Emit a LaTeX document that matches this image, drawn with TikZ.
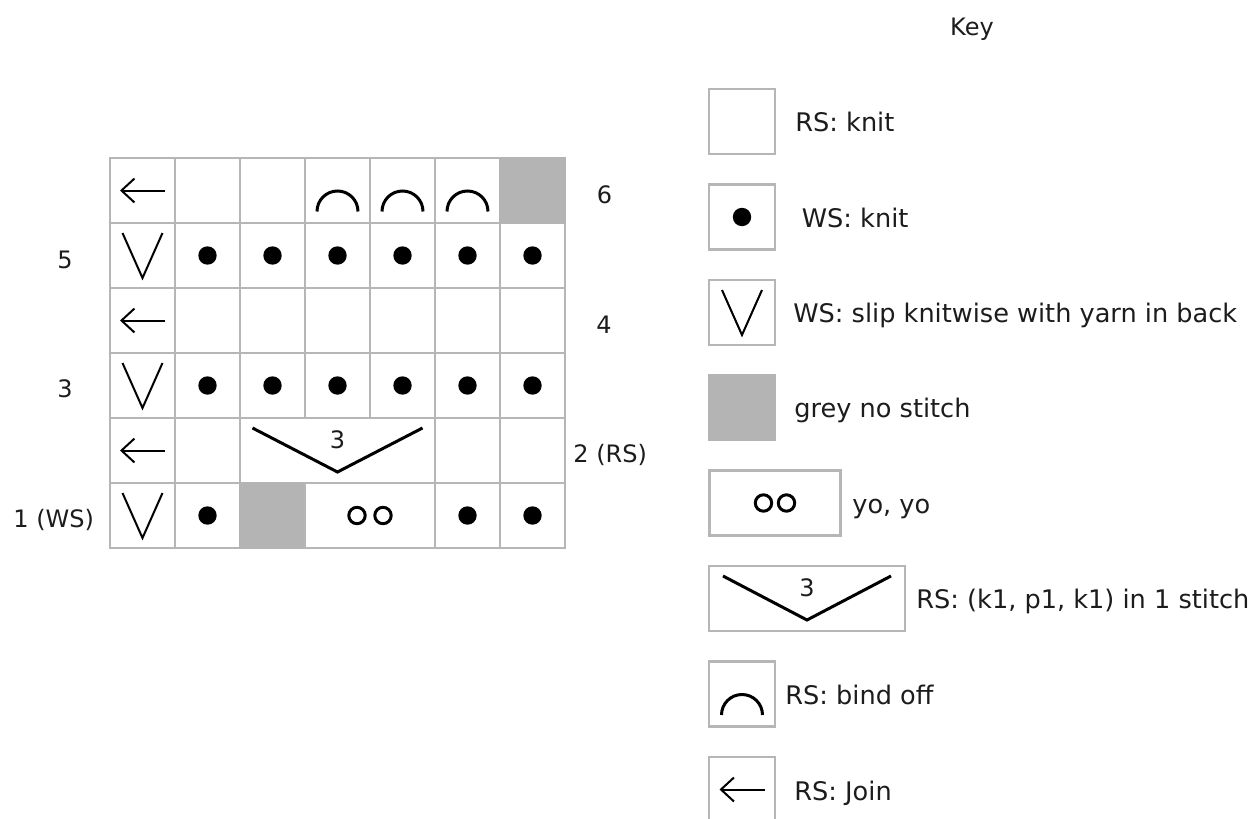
\documentclass[tikz,border=0pt]{standalone}
\usepackage{fontspec}
\setmainfont{DejaVu Sans}
\usetikzlibrary{arrows.meta}
\definecolor{gridgrey}{RGB}{182,182,182}
\definecolor{nostitch}{RGB}{180,180,180}
\definecolor{ink}{RGB}{28,28,28}
\tikzset{
  cell/.style={draw=gridgrey, line width=1.35pt, minimum width=32.5pt,
    minimum height=32.5pt, inner sep=0pt, outer sep=0pt},
  nocell/.style={cell, fill=nostitch, draw=nostitch},
  keybox/.style={cell, minimum width=33pt},
  rowlbl/.style={font=\fontsize{12pt}{14pt}\selectfont, text=ink, inner sep=0pt, anchor=base},
  keylbl/.style={font=\fontsize{12.8pt}{15pt}\selectfont, text=ink, inner sep=0pt, anchor=base west},
  thinsym/.style={line width=1pt},
  thicksym/.style={line width=1.5pt},
  pics/slipv/.style={code={\draw[thinsym] (-20,-22.5) -- (0,22.5) -- (20,-22.5);}},
  pics/joinarrow/.style={code={\draw[thinsym, -{Straight Barb[length=6.5pt,width=12pt]}] (22.5,0) -- (-22.5,0);}},
  pics/wsdot/.style={code={\fill (0,0) circle (4.6pt);}},
  pics/bindoff/.style={code={\draw[thicksym] (-20.5,21) arc[start angle=180, end angle=0, radius=10.25pt];}},
  pics/yoyo/.style={code={\draw[thicksym] (-#1,0) circle (4.1pt) (#1,0) circle (4.1pt);}},
  pics/incthree/.style={code={\draw[thicksym] (-#1,-22.5) -- (0,21.5) -- (#1,-22.5);}}
}
\begin{document}
\begin{tikzpicture}[x=0.5pt,y=-0.5pt]
  \useasboundingbox (0,0) rectangle (1255,819);
  \clip (0,0) rectangle (1255,819);
  \fill[white] (0,0) rectangle (1255,819);

  % chart
  \foreach \r/\y in {5/255.5,4/320.5,3/385.5}
    \foreach \c/\x in {1/142.5,2/207.5,3/272.5,4/337.5,5/402.5,6/467.5,7/532.5}
      \node[cell] (r\r-\c) at (\x,\y) {};
  \foreach \c/\x in {1/142.5,2/207.5,3/272.5,4/337.5,5/402.5,6/467.5}
    \node[cell] (r6-\c) at (\x,190.5) {};
  \node[nocell] (r6-7) at (532.5,190.5) {};
  \node[cell] (r2-1) at (142.5,450.5) {};
  \node[cell] (r2-2) at (207.5,450.5) {};
  \node[cell, minimum width=97.5pt] (r2-3) at (337.5,450.5) {};
  \node[cell] (r2-6) at (467.5,450.5) {};
  \node[cell] (r2-7) at (532.5,450.5) {};
  \node[cell] (r1-1) at (142.5,515.5) {};
  \node[cell] (r1-2) at (207.5,515.5) {};
  \node[nocell] (r1-3) at (272.5,515.5) {};
  \node[cell, minimum width=65pt] (r1-4) at (370,515.5) {};
  \node[cell] (r1-6) at (467.5,515.5) {};
  \node[cell] (r1-7) at (532.5,515.5) {};

  \foreach \r in {6,4,2} \pic at (r\r-1) {joinarrow};
  \foreach \r in {5,3,1} \pic at (r\r-1) {slipv};
  \foreach \c in {2,...,7} {\pic at (r5-\c) {wsdot}; \pic at (r3-\c) {wsdot};}
  \foreach \c in {2,6,7} \pic at (r1-\c) {wsdot};
  \foreach \c in {4,5,6} \pic at (r6-\c) {bindoff};
  \pic at (r2-3) {incthree=85};
  \node[rowlbl] (r2-3-num) at (337.5,448) {3};
  \pic at (r1-4) {yoyo=13};

  \node[rowlbl] (lbl6) at (604.5,203) {6};
  \node[rowlbl] (lbl5) at (65,268) {5};
  \node[rowlbl] (lbl4) at (604,333) {4};
  \node[rowlbl] (lbl3) at (65,397.5) {3};
  \node[rowlbl, anchor=base west] (lbl2) at (573,462) {2 (RS)};
  \node[rowlbl, anchor=base west] (lbl1) at (13,527.5) {1 (WS)};

  % key
  \node[rowlbl] (keytitle) at (972,35) {Key};
  \node[keybox] (k-rsknit) at (742,121.5) {};
  \node[keybox] (k-wsknit) at (742,217) {};
  \node[keybox] (k-slip) at (742,312.5) {};
  \node[keybox, fill=nostitch, draw=nostitch] (k-nostitch) at (742,407.5) {};
  \node[keybox, minimum width=65.5pt] (k-yoyo) at (775,503) {};
  \node[keybox, minimum width=98pt] (k-inc) at (807,598.5) {};
  \node[keybox] (k-bindoff) at (742,694) {};
  \node[keybox] (k-join) at (742,789.5) {};

  \pic at (k-wsknit) {wsdot};
  \pic at (k-slip) {slipv};
  \pic at (k-yoyo) {yoyo=11.5};
  \pic at (k-inc) {incthree=84};
  \node[rowlbl] (k-inc-num) at (807,596) {3};
  \pic at (k-bindoff) {bindoff};
  \pic at (k-join) {joinarrow};

  \node[keylbl] (t-rsknit) at (795,131.5) {RS: knit};
  \node[keylbl] (t-wsknit) at (801.5,227) {WS: knit};
  \node[keylbl] (t-slip) at (793,322) {WS: slip knitwise with yarn in back};
  \node[keylbl] (t-nostitch) at (794,417) {grey no stitch};
  \node[keylbl] (t-yoyo) at (852,513) {yo, yo};
  \node[keylbl] (t-inc) at (916,608) {RS: (k1, p1, k1) in 1 stitch};
  \node[keylbl] (t-bindoff) at (785,704) {RS: bind off};
  \node[keylbl] (t-join) at (794,800) {RS: Join};
\end{tikzpicture}
\end{document}
